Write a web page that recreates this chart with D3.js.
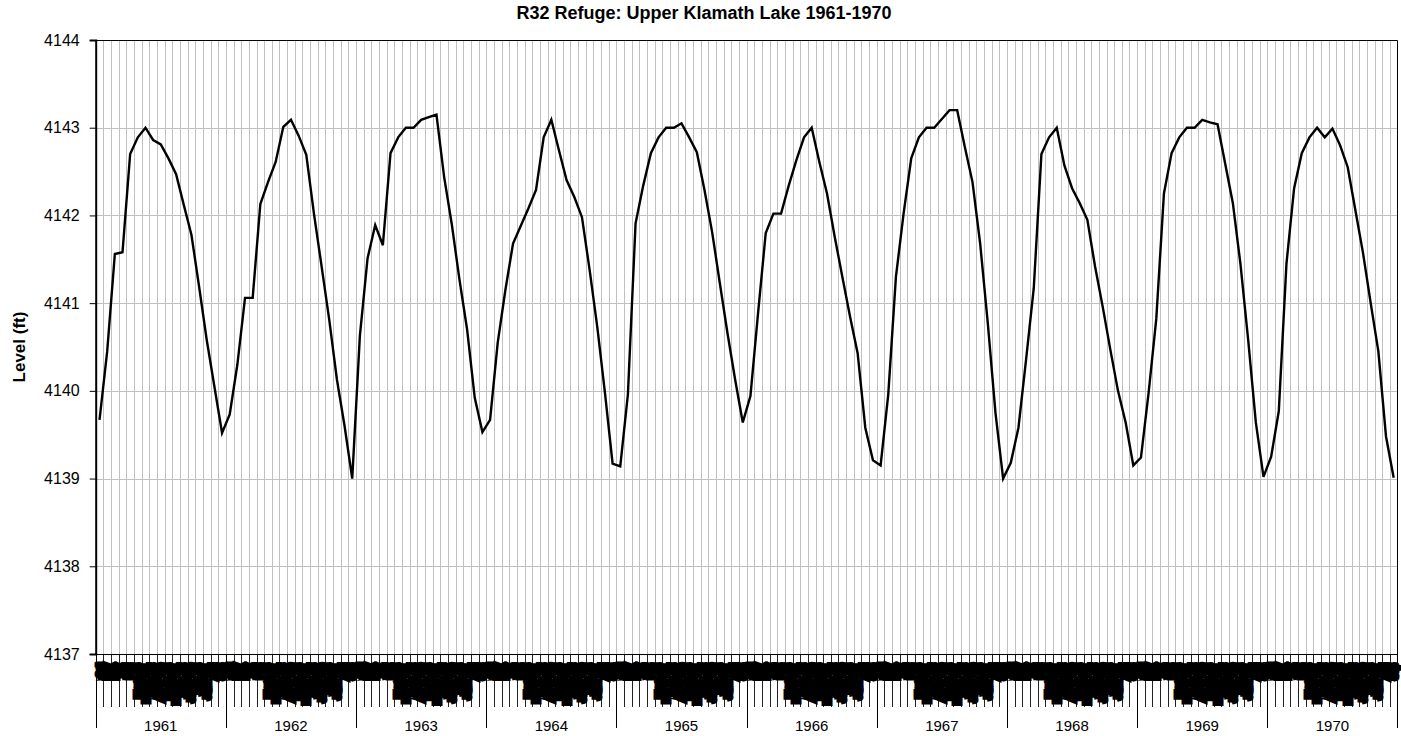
<!DOCTYPE html>
<html>
<head>
<meta charset="utf-8">
<script src="https://cdn.jsdelivr.net/npm/d3@7"></script>
<style>
  html, body { margin: 0; padding: 0; background: #fff; }
  svg { display: block; }
  text { font-family: "Liberation Sans", Arial, sans-serif; }
</style>
</head>
<body>
<svg id="chart" width="1401" height="736"></svg>
<script>
// ---- data ----
const chartTitle = "R32 Refuge: Upper Klamath Lake 1961-1970";
const yAxisTitle = "Level (ft)";
const years = [1961, 1962, 1963, 1964, 1965, 1966, 1967, 1968, 1969, 1970];
const periods = ["Oct", "Nov", "Dec", "Jan", "Feb",
  "Mar 1-15", "Mar 16-31", "Apr 1-15", "Apr 16-30", "May 1-15", "May 16-31",
  "Jun 1-15", "Jun 16-30", "Jul 1-15", "Jul 16-31", "Aug", "Sep"];
const yTicks = [4137, 4138, 4139, 4140, 4141, 4142, 4143, 4144];

const level1961 = [4139.67, 4140.45, 4141.56, 4141.58, 4142.70, 4142.89, 4143.00, 4142.86, 4142.81, 4142.65, 4142.47, 4142.12, 4141.78, 4141.19, 4140.58, 4140.05, 4139.52];
const level1962 = [4139.73, 4140.30, 4141.06, 4141.06, 4142.13, 4142.38, 4142.61, 4143.01, 4143.09, 4142.91, 4142.69, 4142.02, 4141.42, 4140.81, 4140.13, 4139.60, 4139.00];
const level1963 = [4140.63, 4141.51, 4141.89, 4141.66, 4142.71, 4142.89, 4143.00, 4143.00, 4143.09, 4143.12, 4143.15, 4142.44, 4141.90, 4141.27, 4140.70, 4139.92, 4139.53];
const level1964 = [4139.67, 4140.55, 4141.15, 4141.68, 4141.88, 4142.08, 4142.29, 4142.89, 4143.09, 4142.74, 4142.40, 4142.21, 4141.98, 4141.38, 4140.73, 4139.98, 4139.17];
const level1965 = [4139.14, 4139.96, 4141.91, 4142.34, 4142.71, 4142.89, 4143.00, 4143.00, 4143.05, 4142.89, 4142.72, 4142.29, 4141.81, 4141.23, 4140.66, 4140.13, 4139.64];
const level1966 = [4139.94, 4140.89, 4141.80, 4142.02, 4142.02, 4142.34, 4142.63, 4142.89, 4143.00, 4142.61, 4142.25, 4141.76, 4141.30, 4140.85, 4140.43, 4139.58, 4139.21];
const level1967 = [4139.15, 4139.96, 4141.30, 4142.02, 4142.65, 4142.89, 4143.00, 4143.00, 4143.10, 4143.20, 4143.20, 4142.78, 4142.38, 4141.68, 4140.77, 4139.75, 4139.00];
const level1968 = [4139.18, 4139.58, 4140.36, 4141.17, 4142.70, 4142.89, 4143.00, 4142.57, 4142.31, 4142.14, 4141.95, 4141.42, 4140.96, 4140.47, 4140.00, 4139.64, 4139.15];
const level1969 = [4139.24, 4139.98, 4140.82, 4142.25, 4142.71, 4142.89, 4143.00, 4143.00, 4143.09, 4143.06, 4143.04, 4142.59, 4142.14, 4141.44, 4140.58, 4139.64, 4139.02];
const level1970 = [4139.25, 4139.77, 4141.45, 4142.31, 4142.71, 4142.89, 4143.00, 4142.89, 4142.99, 4142.80, 4142.55, 4142.06, 4141.57, 4141.00, 4140.45, 4139.48, 4139.01];

const levelsByYear = [level1961, level1962, level1963, level1964, level1965,
                      level1966, level1967, level1968, level1969, level1970];

// build category table
const data = [];
years.forEach((yr, yi) => {
  levelsByYear[yi].forEach((v, pi) => {
    data.push({ key: yr + "-" + pi, year: yr, period: periods[pi], value: v });
  });
});

// ---- layout ----
const plot = { left: 95.7, right: 1397.5, top: 40, bottom: 654 };

const svg = d3.select("#chart");

const x = d3.scaleBand()
  .domain(data.map(d => d.key))
  .range([plot.left, plot.right])
  .paddingInner(0).paddingOuter(0);
const bw = x.bandwidth();

const y = d3.scaleLinear()
  .domain([yTicks[0], yTicks[yTicks.length - 1]])
  .range([plot.bottom, plot.top]);

// vertical gridlines at category boundaries
svg.append("g")
  .selectAll("line")
  .data(data.slice(1))
  .join("line")
  .attr("x1", d => Math.round(x(d.key)) + 0.5)
  .attr("x2", d => Math.round(x(d.key)) + 0.5)
  .attr("y1", plot.top)
  .attr("y2", plot.bottom)
  .attr("stroke", "#c0c0c0")
  .attr("stroke-width", 1);

// horizontal gridlines
svg.append("g")
  .selectAll("line")
  .data(yTicks.slice(1, -1))
  .join("line")
  .attr("x1", plot.left)
  .attr("x2", plot.right)
  .attr("y1", d => Math.round(y(d)) + 0.5)
  .attr("y2", d => Math.round(y(d)) + 0.5)
  .attr("stroke", "#c0c0c0")
  .attr("stroke-width", 1);

// plot border top/right
svg.append("path")
  .attr("d", `M${plot.left},${plot.top + 0.5}H${Math.round(plot.right) - 0.5}V${plot.bottom}`)
  .attr("fill", "none")
  .attr("stroke", "#000")
  .attr("stroke-width", 1);

// y axis
const yAxis = d3.axisLeft(y)
  .tickValues(yTicks)
  .tickSize(6)
  .tickPadding(10)
  .tickFormat(d3.format("d"));
const gy = svg.append("g")
  .attr("transform", `translate(${plot.left},0)`)
  .call(yAxis);
gy.select(".domain").attr("stroke", "#000").attr("stroke-width", 2);
gy.selectAll(".tick line").attr("stroke", "#000");
gy.selectAll(".tick text")
  .attr("font-size", 16)
  .attr("fill", "#000")
  .style("font-family", "'Liberation Sans', Arial, sans-serif");

// x axis: category ticks (under the labels) and rotated labels
const gx = svg.append("g");

gx.append("g")
  .selectAll("line")
  .data(data.slice(1))
  .join("line")
  .attr("x1", d => Math.round(x(d.key)) + 0.5)
  .attr("x2", d => Math.round(x(d.key)) + 0.5)
  .attr("y1", plot.bottom)
  .attr("y2", plot.bottom + 53)
  .attr("stroke", "#222");

gx.append("line")
  .attr("x1", plot.left - 6).attr("x2", plot.right)
  .attr("y1", plot.bottom + 0.5).attr("y2", plot.bottom + 0.5)
  .attr("stroke", "#000").attr("stroke-width", 1.2);

gx.append("g")
  .selectAll("text")
  .data(data)
  .join("text")
  .attr("transform", d => `translate(${x(d.key) + bw / 2},${plot.bottom + 10}) rotate(-90)`)
  .attr("text-anchor", "end")
  .attr("dy", "0.36em")
  .attr("font-size", 8.5)
  .attr("fill", "#000")
  .attr("stroke", "#000")
  .attr("stroke-width", 5)
  .attr("stroke-linejoin", "miter")
  .text(d => d.period);

// year group ticks and labels
const yearStarts = years.map((yr, yi) => data[yi * periods.length].key);
gx.append("g")
  .selectAll("line")
  .data(years.concat([null]))
  .join("line")
  .attr("x1", (d, i) => i < years.length ? Math.round(x(yearStarts[i])) + 0.5 : Math.round(plot.right) - 0.5)
  .attr("x2", (d, i) => i < years.length ? Math.round(x(yearStarts[i])) + 0.5 : Math.round(plot.right) - 0.5)
  .attr("y1", plot.bottom)
  .attr("y2", plot.bottom + 74)
  .attr("stroke", "#000");

gx.append("g")
  .selectAll("text")
  .data(years)
  .join("text")
  .attr("x", (d, i) => x(yearStarts[i]) + bw * periods.length / 2)
  .attr("y", 731)
  .attr("text-anchor", "middle")
  .attr("font-size", 15)
  .attr("fill", "#000")
  .text(d => d);

// line
const line = d3.line()
  .x(d => x(d.key) + bw / 2)
  .y(d => y(d.value));
svg.append("path")
  .datum(data)
  .attr("d", line)
  .attr("fill", "none")
  .attr("stroke", "#000")
  .attr("stroke-width", 2.4)
  .attr("stroke-linejoin", "miter");

// titles
svg.append("text")
  .attr("x", 704)
  .attr("y", 19)
  .attr("text-anchor", "middle")
  .attr("font-size", 18)
  .attr("font-weight", "bold")
  .text(chartTitle);

svg.append("text")
  .attr("transform", `translate(25,${(plot.top + plot.bottom) / 2}) rotate(-90)`)
  .attr("text-anchor", "middle")
  .attr("font-size", 17)
  .attr("font-weight", "bold")
  .text(yAxisTitle);
</script>
</body>
</html>
